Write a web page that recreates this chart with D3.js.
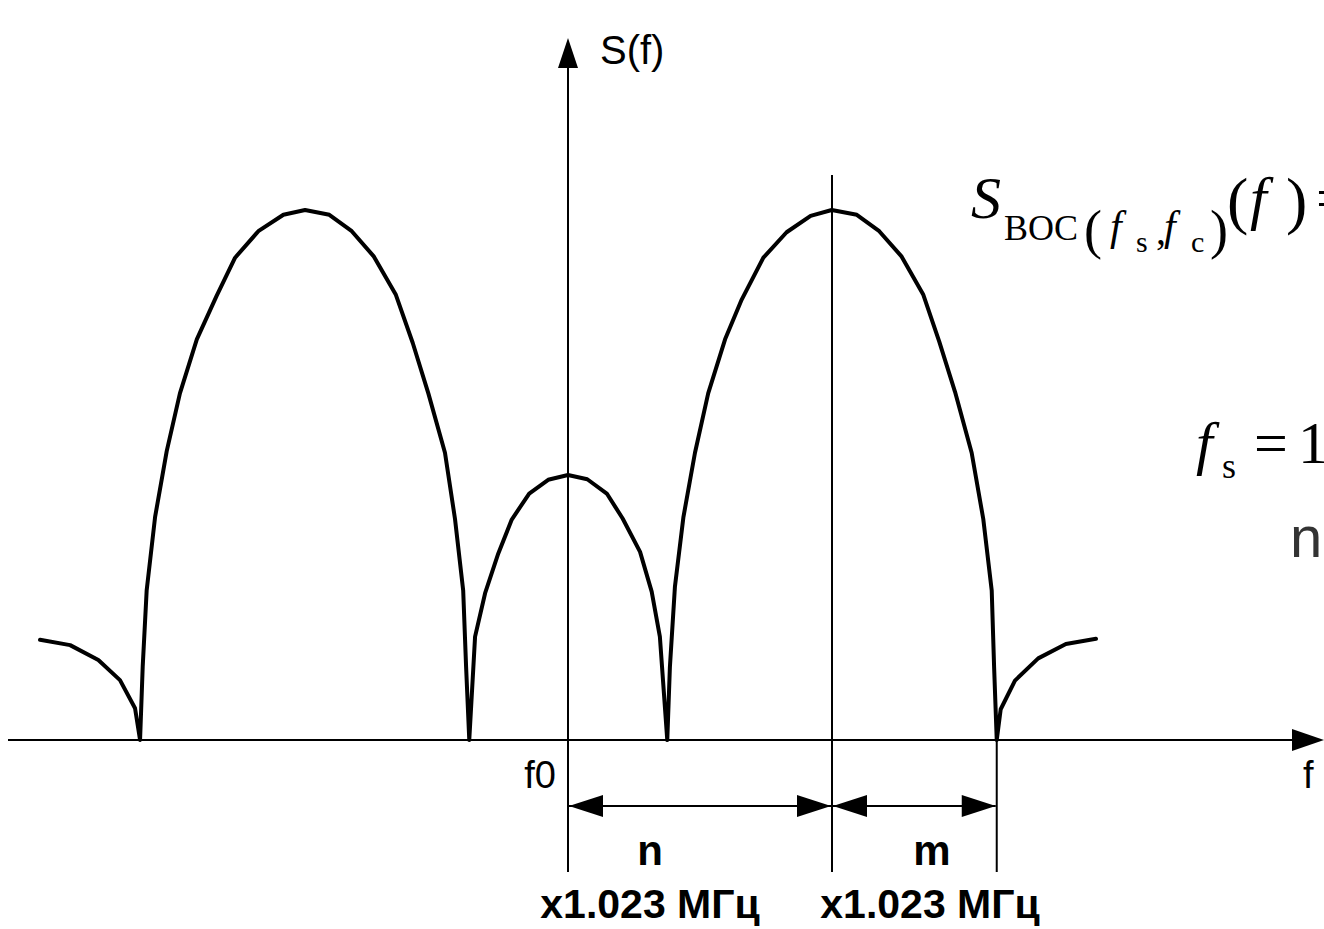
<!DOCTYPE html>
<html>
<head>
<meta charset="utf-8">
<script src="https://cdn.jsdelivr.net/npm/d3@7"></script>
<style>
  body { margin: 0; background: #fff; }
  svg { display: block; }
  .lbl { font-family: "Liberation Sans", Arial, sans-serif; fill: #000; }
  .math { font-family: "Liberation Serif", "Times New Roman", serif; fill: #000; }
</style>
</head>
<body>
<script>
// spectrum polyline
// freq: offset from f0 (units of 1.023 MHz), S: normalised to main lobe peak
var freq = [
  -20.0, -18.86, -17.79, -16.97, -16.40, -16.21,
  -16.11, -15.96, -15.64, -15.20, -14.70, -14.06, -13.31, -12.61, -11.73, -10.78,
  -9.96, -9.04, -8.19, -7.35, -6.52, -5.88, -5.29, -4.66, -4.28, -3.97, -3.86, -3.74,
  -3.52, -3.14, -2.64, -2.13, -1.47, -0.75, 0, 0.73, 1.47, 2.07, 2.73, 3.17, 3.48, 3.76,
  3.86, 4.05, 4.37, 4.81, 5.31, 5.95, 6.58, 7.40, 8.28, 9.19,
  9.99, 10.94, 11.79, 12.64, 13.46, 14.06, 14.66, 15.29, 15.73, 16.05, 16.14, 16.24,
  16.39, 16.93, 17.81, 18.86, 20.0
]
var S = [
  0.189, 0.179, 0.151, 0.113, 0.060, 0,
  0.138, 0.282, 0.421, 0.545, 0.654, 0.756, 0.838, 0.910, 0.960, 0.991,
  1.000, 0.991, 0.960, 0.912, 0.840, 0.749, 0.654, 0.542, 0.417, 0.282, 0.138, 0,
  0.195, 0.277, 0.352, 0.416, 0.465, 0.491, 0.500, 0.492, 0.465, 0.418, 0.355, 0.280, 0.195, 0,
  0.138, 0.289, 0.420, 0.542, 0.654, 0.756, 0.831, 0.910, 0.958, 0.989,
  1.000, 0.991, 0.960, 0.912, 0.840, 0.752, 0.657, 0.542, 0.417, 0.282, 0.138, 0,
  0.058, 0.112, 0.154, 0.181, 0.191
]

// guide lines: f0, main lobe centre, outer null
var f0 = 0, fPeak = 10, fNull = 16.24
var spans = [
  { from: f0, to: fPeak, label: 'n', lx: 650, ux: 650 },
  { from: fPeak, to: fNull, label: 'm', lx: 932, ux: 930 }
]
var unitLabel = 'x1.023 МГц'

var width = 1324, height = 929

var x = d3.scaleLinear().domain([-20, 20]).range([40, 1096])
var y = d3.scaleLinear().domain([0, 1]).range([740, 210])

var svg = d3.select('body').append('svg')
    .attr('width', width)
    .attr('height', height)

var x0 = x(f0), yAxis = y(0)
var dimY = 806, guideBottom = 872

// x axis + arrow
svg.append('line')
    .attr('x1', 8).attr('x2', width - 30)
    .attr('y1', yAxis).attr('y2', yAxis)
    .attr('stroke', '#000').attr('stroke-width', 2)
svg.append('path')
    .attr('d', 'M' + width + ',' + yAxis + 'l-32,-11v22z')
    .attr('fill', '#000')

// y axis + arrow
svg.append('line')
    .attr('x1', x0).attr('x2', x0)
    .attr('y1', 66).attr('y2', guideBottom)
    .attr('stroke', '#000').attr('stroke-width', 2)
svg.append('path')
    .attr('d', 'M' + x0 + ',38l-10,30h20z')
    .attr('fill', '#000')

// guide lines
svg.append('line')
    .attr('x1', x(fPeak)).attr('x2', x(fPeak))
    .attr('y1', 175).attr('y2', guideBottom)
    .attr('stroke', '#000').attr('stroke-width', 2)
svg.append('line')
    .attr('x1', x(fNull)).attr('x2', x(fNull))
    .attr('y1', yAxis).attr('y2', guideBottom)
    .attr('stroke', '#000').attr('stroke-width', 2)

// spectrum
var valueline = d3.line()
    .x(d => x(d[0]))
    .y(d => y(d[1]))
var pts = freq.map((f, i) => [f, S[i]])
svg.append('path')
    .datum(pts)
    .attr('d', valueline)
    .attr('fill', 'none')
    .attr('stroke', '#000')
    .attr('stroke-width', 4)
    .attr('stroke-linejoin', 'round')
    .attr('stroke-linecap', 'round')

// dimension arrows
spans.forEach(s => {
    var a = x(s.from) + 1, b = x(s.to) - 1
    svg.append('line')
        .attr('x1', a).attr('x2', b)
        .attr('y1', dimY).attr('y2', dimY)
        .attr('stroke', '#000').attr('stroke-width', 2)
    svg.append('path')
        .attr('d', 'M' + a + ',' + dimY + 'l34,-11v22z')
        .attr('fill', '#000')
    svg.append('path')
        .attr('d', 'M' + b + ',' + dimY + 'l-34,-11v22z')
        .attr('fill', '#000')
    svg.append('text').attr('class', 'lbl')
        .attr('x', s.lx).attr('y', 865)
        .attr('text-anchor', 'middle')
        .attr('font-size', 42).attr('font-weight', 'bold')
        .text(s.label)
    svg.append('text').attr('class', 'lbl')
        .attr('x', s.ux).attr('y', 918)
        .attr('text-anchor', 'middle')
        .attr('font-size', 41).attr('font-weight', 'bold')
        .text(unitLabel)
})

// axis labels
svg.append('text').attr('class', 'lbl')
    .attr('x', 600).attr('y', 64).attr('font-size', 40)
    .text('S(f)')
svg.append('text').attr('class', 'lbl')
    .attr('x', 556).attr('y', 788).attr('font-size', 38)
    .attr('text-anchor', 'end')
    .text('f0')
svg.append('text').attr('class', 'lbl')
    .attr('x', 1303).attr('y', 788).attr('font-size', 38)
    .text('f')

// formula (cut by the right edge as in the source)
function put(txt, px, py, size, italic) {
    svg.append('text').attr('class', 'math')
        .attr('x', px).attr('y', py)
        .attr('font-size', size)
        .attr('font-style', italic ? 'italic' : 'normal')
        .text(txt)
}
put('S', 971, 218, 60, true)
put('BOC', 1004, 240, 36, false)
put('(', 1084, 248, 54, false)
put('f', 1110, 240, 42, true)
put('s', 1136, 252, 30, false)
put(',', 1156, 244, 40, false)
put('f', 1164, 240, 42, true)
put('c', 1191, 252, 30, false)
put(')', 1210, 248, 54, false)
put('(', 1227, 222, 64, false)
put('f', 1250, 218, 60, true)
put(')', 1286, 222, 64, false)
put('=', 1316, 218, 60, false)

put('f', 1196, 463, 60, true)
put('s', 1222, 478, 36, false)
put('=', 1254, 463, 60, false)
put('1', 1298, 463, 60, false)

svg.append('text')
    .attr('x', 1290).attr('y', 557)
    .attr('font-family', '"Liberation Sans", Arial, sans-serif')
    .attr('font-size', 58).attr('fill', '#333')
    .text('n')
</script>
</body>
</html>
